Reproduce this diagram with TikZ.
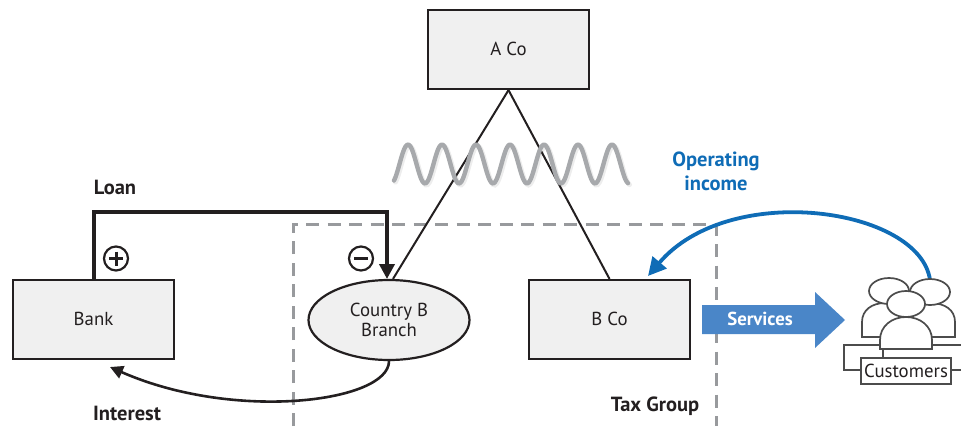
\documentclass[tikz,border=0pt]{standalone}
\usepackage{fontspec}
\setmainfont{PT Sans}
\usetikzlibrary{arrows.meta,calc,shapes.geometric}
\definecolor{boxfill}{HTML}{F0F0F0}
\definecolor{ink}{HTML}{231F20}
\definecolor{wavegray}{HTML}{A7A9AC}
\definecolor{dashgray}{HTML}{989A9D}
\definecolor{opblue}{HTML}{0F6CB6}
\definecolor{svcblue}{HTML}{4A86C8}
\tikzset{
  x=1pt,y=-1pt,
  every node/.style={font=\fontsize{18.8}{20}\selectfont,text=ink,align=center,inner sep=0pt},
  entity/.style={draw=ink,line width=2.2pt,fill=boxfill,minimum width=161pt,minimum height=79pt},
  tie/.style={draw=ink,line width=2pt},
  boldlabel/.style={font=\fontsize{20.5}{24}\selectfont\bfseries},
  person/.style={draw=black!70,line width=1.7pt,fill=white},
  orgline/.style={draw=black!70,line width=1.7pt},
  signcircle/.style={draw=ink,line width=2.2pt,circle,minimum size=24pt},
  wave/.style={wavegray,line width=4.4pt,line cap=round,line join=round},
}
\begin{document}
\begin{tikzpicture}
\useasboundingbox (0,0) rectangle (961,426);
% dashed tax group
\draw[dashgray,line width=3pt,dash pattern=on 13pt off 8.5pt] (293,426) -- (293,224) -- (716,224) -- (716,426);
% boxes
\node[entity] (aco) at (508.5,49.5) {\raisebox{1pt}{A Co}};
\node[entity] (bank) at (93.5,319.5) {\raisebox{1pt}{Bank}};
\node[entity] (bco) at (609.5,319.5) {\raisebox{1pt}{B Co}};
\node[draw=ink,line width=2.2pt,fill=boxfill,ellipse,minimum width=161pt,minimum height=80pt] (branch) at (389,320) {Country B\\Branch};
% wave shadow and wave
\draw[black!7,line width=5pt,line cap=round,domain=394:628,samples=140,smooth] plot ({\x+1.5},{165.5-19.5*cos((\x-408)/34*360)});
\coordinate (apex) at (aco.south);
\draw[tie] (apex) -- ($(branch.north)+(4,0)$);
\draw[tie] (apex) -- (bco.north);
\draw[wave,domain=394:628,samples=140,smooth] plot (\x,{164-19.5*cos((\x-408)/34*360)});
% loan
\coordinate (loanstart) at (94,279);
\coordinate (loantip) at (387,279);
\draw[ink,line width=4.6pt,line join=miter,-{Triangle[length=15pt,width=15pt]}] (loanstart) -- (94,212) -- (387,212) -- (loantip);
\node[signcircle] (plus) at (116,258.5) {};
\draw[ink,line width=3pt] (109,258.5) -- (123,258.5) (116,251.5) -- (116,265.5);
\node[signcircle] (minus) at (361,258.5) {};
\draw[ink,line width=3pt] (354,258.5) -- (368,258.5);
% interest
\draw[ink,line width=2.6pt,-{Triangle[length=13pt,width=13pt]}] (branch.south) .. controls (389,402) and (235,422) .. (110,367);
% labels
\node[boldlabel] (loanlbl) at (115,187.5) {Loan};
\node[boldlabel] (interestlbl) at (127,413.5) {Interest};
\node[boldlabel] (taxlbl) at (655,406.5) {Tax Group};
\node[boldlabel,text=opblue] (oplbl) at (716,171.5) {Operating\\income};
% services
\draw[fill=svcblue,draw=none] (702,305) -- (815,305) -- (815,292) -- (845,320) -- (815,348) -- (815,334) -- (702,334) -- cycle;
\node[boldlabel,font=\fontsize{18.8}{20}\selectfont\bfseries,text=white] (svc) at (760,319) {Services};
% customers
\coordinate (custtop) at (930,280);
\draw[opblue,line width=3.8pt,-{Triangle[length=18pt,width=18pt]}] (custtop) .. controls (920,208) and (730,180) .. (648,276);
\draw[orgline] (932,345) -- (961,345) (880,345) -- (844,345) -- (844,370) -- (861,370) (951,370) -- (961,370) (883,349) -- (883,358);
\draw[person] (862,337) -- (862,322) .. controls (862,310) and (872,303) .. (885,303) -- (930,303) .. controls (945,303) and (955,310) .. (955,322) -- (955,337) -- cycle;
\draw[person] (889,291) ellipse [x radius=20,y radius=13];
\draw[person] (930,292) ellipse [x radius=20,y radius=13];
\draw[person] (906,304) ellipse [x radius=19,y radius=13];
\draw[person] (880,349) -- (880,340) .. controls (880,326) and (892,317) .. (906,317) .. controls (920,317) and (932,326) .. (932,340) -- (932,349) -- cycle;
\node[draw=black!70,line width=1.7pt,fill=white,minimum width=90pt,minimum height=26pt] (cust) at (906,371) {Customers};
\end{tikzpicture}
\end{document}
